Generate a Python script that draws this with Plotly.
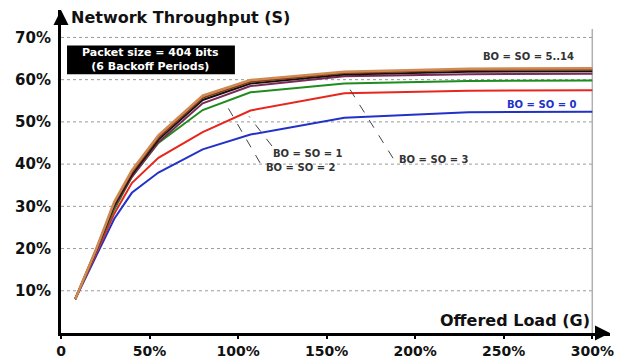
import plotly.graph_objects as go

# Offered load G (%)
load = [8, 20, 30, 40, 55, 80, 107, 160, 230, 300]

# Throughput S (%) per configuration
s_tan = [8, 20, 31, 38.5, 46.8, 56.2, 59.9, 61.9, 62.6, 62.7]
s_brown = [8, 20, 30.6, 38, 46.3, 55.7, 59.5, 61.6, 62.3, 62.4]
s_black = [8, 19.8, 30.2, 37.5, 45.8, 55.2, 59.1, 61.2, 61.9, 62.0]
s_maroon = [8, 19.6, 29.8, 37, 45.2, 54.4, 58.5, 60.8, 61.3, 61.4]
s_green = [8, 19.5, 29.2, 37, 45, 52.8, 57, 59.1, 59.7, 59.8]
s_red = [8, 19, 28.2, 35.5, 41.5, 47.6, 52.7, 56.8, 57.4, 57.5]
s_blue = [8, 18.5, 27, 33.2, 38, 43.5, 47, 51, 52.3, 52.4]

series = [
    ("BO = SO = 0", s_blue, "#2232c8", 2),
    ("BO = SO = 1", s_red, "#e8261e", 2),
    ("BO = SO = 2", s_green, "#1e8c1e", 2),
    ("BO = SO = 3", s_maroon, "#7a2a55", 2),
    ("BO = SO = 5", s_black, "#111111", 2),
    ("BO = SO = 8", s_brown, "#8b3a1a", 2),
    ("BO = SO = 14", s_tan, "#cf8a52", 2.5),
]

x_ticks = [0, 50, 100, 150, 200, 250, 300]
x_text = ["0", "50%", "100%", "150%", "200%", "250%", "300%"]
y_ticks = [10, 20, 30, 40, 50, 60, 70]
y_text = ["10%", "20%", "30%", "40%", "50%", "60%", "70%"]

FONT = "DejaVu Sans"

fig = go.Figure()
for name, ys, col, w in series:
    fig.add_trace(go.Scatter(x=load, y=ys, mode="lines", name=name,
                             line=dict(color=col, width=w), showlegend=False))

shapes = []
for yv in y_ticks:
    shapes.append(dict(type="line", xref="x", yref="y", x0=0, x1=300, y0=yv, y1=yv,
                       line=dict(color="#9a9a9a", width=1, dash="dot"), layer="below"))
shapes.append(dict(type="line", xref="x", yref="y", x0=300, x1=300, y0=-2, y1=72,
                   line=dict(color="#b0b0b0", width=1.5), layer="below"))
# info box
shapes.append(dict(type="rect", xref="x", yref="y", x0=3.4, x1=98.2, y0=61.3, y1=68.1,
                   fillcolor="#000000", line=dict(width=0)))

# dashed leader lines (label -> curve)
leaders = [
    ((112.4, 40.3), (94.5, 53.2)),
    ((119.1, 44.3), (106.2, 51.3)),
    ((187.5, 41.4), (161.2, 59.0)),
]
for (x0, y0), (x1, y1) in leaders:
    shapes.append(dict(type="line", xref="x", yref="y", x0=x0, y0=y0, x1=x1, y1=y1,
                       line=dict(color="#444444", width=1, dash="dash")))

annotations = []
# arrowheads on leader lines
for (x0, y0), (x1, y1) in [((94.5, 53.2), (93.7, 53.9)), ((106.2, 51.3), (105.6, 52.0)),
                           ((161.2, 59.0), (160.4, 59.7))]:
    annotations.append(dict(x=x1, y=y1, ax=x0, ay=y0, axref="x", ayref="y", xref="x", yref="y",
                            text="", showarrow=True, arrowhead=2, arrowsize=1.3,
                            arrowwidth=1.5, arrowcolor="#111111"))

lab_font = dict(family=FONT, size=10, color="#333333")
annotations += [
    dict(x=263.7, y=65.6, text="<b>BO = SO = 5..14</b>", showarrow=False, font=lab_font),
    dict(x=271.6, y=54.1, text="<b>BO = SO = 0</b>", showarrow=False,
         font=dict(family=FONT, size=10, color="#2232c8")),
    dict(x=139.5, y=42.6, text="<b>BO = SO = 1</b>", showarrow=False, font=lab_font),
    dict(x=135.5, y=39.1, text="<b>BO = SO = 2</b>", showarrow=False, font=lab_font),
    dict(x=210.5, y=41.2, text="<b>BO = SO = 3</b>", showarrow=False, font=lab_font),
    dict(x=50.8, y=64.7, text="<b>Packet size = 404 bits<br>(6 Backoff Periods)</b>",
         showarrow=False, font=dict(family=FONT, size=11, color="#ffffff")),
    dict(xref="paper", yref="paper", x=0.015, y=1.0, yshift=-7, xanchor="left", yanchor="middle",
         text="<b>Network Throughput (S)</b>", showarrow=False,
         font=dict(family=FONT, size=16, color="#111111")),
    dict(x=300, y=3, xanchor="right", yanchor="middle",
         text="<b>Offered Load (G)</b>", showarrow=False,
         font=dict(family=FONT, size=16, color="#111111")),
    # axis arrowheads
    dict(xref="paper", yref="paper", x=1.0, y=0, ax=-14, ay=0, text="", showarrow=True,
         arrowhead=2, arrowsize=1.2, arrowwidth=2.5, arrowcolor="#000000"),
    dict(xref="paper", yref="paper", x=0, y=1.0, ax=0, ay=14, text="", showarrow=True,
         arrowhead=2, arrowsize=1.2, arrowwidth=2.5, arrowcolor="#000000"),
]

fig.update_layout(
    width=618, height=360,
    margin=dict(l=61, r=8, t=10, b=27),
    paper_bgcolor="white", plot_bgcolor="white",
    shapes=shapes, annotations=annotations,
    font=dict(family=FONT, size=14, color="#111111"),
    xaxis=dict(range=[0, 310], showgrid=False, zeroline=False, automargin=False,
               showline=True, linecolor="#000000", linewidth=3,
               tickvals=x_ticks, ticktext=["<b>%s</b>" % t for t in x_text],
               ticks="outside", ticklen=3, tickwidth=2, tickcolor="#000000",
               tickfont=dict(family=FONT, size=14, color="#111111")),
    yaxis=dict(range=[0, 76.5], showgrid=False, zeroline=False, automargin=False,
               showline=True, linecolor="#000000", linewidth=3,
               tickvals=y_ticks, ticktext=["<b>%s</b>" % t for t in y_text],
               ticks="", ticklabelstandoff=4,
               tickfont=dict(family=FONT, size=15, color="#111111")),
)

fig.write_html("out.html")
